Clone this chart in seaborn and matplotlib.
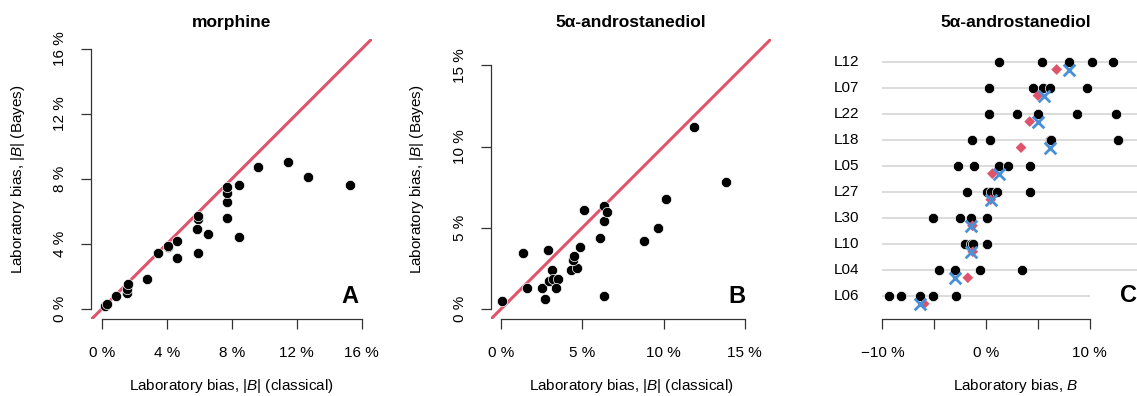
import pandas as pd
import seaborn as sns
import matplotlib.pyplot as plt

sns.set_theme(style="white")
plt.rcParams['font.family'] = ['Liberation Sans', 'DejaVu Sans']
plt.rcParams['mathtext.fontset'] = 'custom'
plt.rcParams['mathtext.it'] = 'Liberation Sans:italic'
plt.rcParams['mathtext.rm'] = 'Liberation Sans'
plt.rcParams['text.color'] = 'black'
plt.rcParams['axes.labelcolor'] = 'black'

RED = '#DF536B'
BLUE = '#4891D9'
AXC = '#333333'

# panel A: morphine, |B| classical vs Bayes (%)
morph_classical = [0.2, 0.3, 0.88, 1.54, 1.54, 1.6, 2.77, 3.45, 4.08, 4.08, 4.62, 4.62, 5.93, 5.86,
                   5.93, 5.93, 6.56, 7.73, 7.73, 7.73, 7.73, 8.45, 8.45, 9.62, 11.49, 12.72, 15.3]
morph_bayes = [0.2, 0.3, 0.82, 1.0, 1.25, 1.52, 1.83, 3.43, 3.82, 3.9, 4.21, 3.12, 3.43, 4.92,
               5.56, 5.74, 4.62, 5.62, 6.61, 7.12, 7.53, 7.61, 4.41, 8.74, 9.03, 8.12, 7.63]

# panel B: 5a-androstanediol
andro_classical = [0.08, 1.37, 1.62, 2.52, 2.72, 2.89, 3.11, 2.93, 3.21, 3.50, 3.36, 4.30, 4.67, 4.44,
                   4.50, 4.87, 5.12, 6.08, 6.31, 6.31, 6.51, 6.31, 8.82, 9.66, 10.18, 11.85, 13.82]
andro_bayes = [0.51, 3.42, 1.31, 1.31, 0.61, 3.62, 2.39, 1.74, 1.82, 1.82, 1.31, 2.39, 2.52, 3.01,
               3.29, 3.80, 6.09, 4.40, 5.40, 6.32, 5.99, 0.82, 4.21, 4.99, 6.79, 11.19, 7.79]

# panel C: per-laboratory bias (%)
labs = ["L12", "L07", "L22", "L18", "L05", "L27", "L30", "L10", "L04", "L06"]
lab_results = [
    [1.28, 5.38, 7.95, 10.19, 12.24],
    [0.32, 4.55, 5.51, 6.15, 9.68],
    [0.26, 2.95, 5.03, 8.81, 12.57],
    [-1.35, 0.38, 6.2, 6.3, 12.69],
    [-2.72, -1.12, 1.28, 2.08, 4.2],
    [-1.86, 0.06, 0.48, 1.09, 4.2],
    [-5.07, -2.5, -1.44, 0.06],
    [-2.02, -1.44, -1.28, 0.06],
    [-4.58, -2.98, -0.55, 3.46],
    [-9.39, -8.17, -6.41, -5.07, -2.86],
]
lab_classical = [6.8, 5.0, 4.2, 3.37, 0.61, 0.45, -1.31, -1.28, -1.76, -5.96]
lab_bayes = [8.01, 5.58, 5.0, 6.15, 1.28, 0.45, -1.47, -1.47, -2.98, -6.41]

W, H = 1137, 396
fig = plt.figure(figsize=(W / 100, H / 100), dpi=100)


def px_axes(x0, x1, y0, y1):
    return fig.add_axes([x0 / W, 1 - y1 / H, (x1 - x0) / W, (y1 - y0) / H])


def style_axes(ax):
    for s in ['top', 'right']:
        ax.spines[s].set_visible(False)
    for s in ['left', 'bottom']:
        ax.spines[s].set_color(AXC)
        ax.spines[s].set_linewidth(0.9)
    ax.tick_params(direction='out', length=7.2, width=0.9, color=AXC, labelsize=11,
                   left=True, bottom=True, labelcolor='black')
    ax.tick_params(axis='x', pad=12)
    ax.tick_params(axis='y', pad=10, labelrotation=90)
    for lab in ax.get_yticklabels():
        lab.set_va('center')


def scatter_panel(ax, xs, ys, ticks, title, letter, lx):
    df = pd.DataFrame({'classical': xs, 'bayes': ys})
    ax.axline((0, 0), slope=1, color=RED, lw=2.2, zorder=1)
    sns.scatterplot(data=df, x='classical', y='bayes', ax=ax, color='black', s=55,
                    edgecolor='white', linewidth=0.5, zorder=3)
    ax.set_xlim(-0.64, 16.64)
    ax.set_ylim(-0.64, 16.64)
    ax.set_xticks(ticks)
    ax.set_yticks(ticks)
    ax.set_xticklabels([f'{t} %' for t in ticks])
    ax.set_yticklabels([f'{t} %' for t in ticks])
    ax.spines['bottom'].set_bounds(ticks[0], ticks[-1])
    ax.spines['left'].set_bounds(ticks[0], ticks[-1])
    style_axes(ax)
    ax.set_xlabel(r'Laboratory bias, |$\it{B}$| (classical)', fontsize=11, labelpad=12)
    ax.set_ylabel(r'Laboratory bias, |$\it{B}$| (Bayes)', fontsize=11, labelpad=19)
    ax.set_title(title, fontsize=12.5, fontweight='bold', pad=8)
    ax.text(lx, 0.081, letter, transform=ax.transAxes, fontsize=17, fontweight='bold',
            ha='center', va='center')


axA = px_axes(91.3, 372.1, 38.6, 319.4)
scatter_panel(axA, morph_classical, morph_bayes, [0, 4, 8, 12, 16], 'morphine', 'A', 0.921)

axB = px_axes(490.6, 771.4, 38.6, 319.4)
scatter_panel(axB, andro_classical, andro_bayes, [0, 5, 10, 15], '5α-androstanediol', 'B', 0.877)

# panel C
axC = px_axes(881.7, 1150, 38.3, 319.4)
n = len(labs)
pos = [n - i for i in range(n)]
long = pd.DataFrame({
    'lab': [lab for lab, vals in zip(labs, lab_results) for _ in vals],
    'bias': [v for vals in lab_results for v in vals],
})
long['pos'] = long['lab'].map(dict(zip(labs, pos)))
est = pd.DataFrame({'lab': labs, 'pos': pos, 'classical': lab_classical, 'bayes': lab_bayes})
est['pos_off'] = est['pos'] - 0.3

xmax = 15.8
axC.hlines(pos, -10.06, [xmax] * (n - 1) + [10], color='#dcdcdc', lw=1.4, zorder=0)
sns.scatterplot(data=long, x='bias', y='pos', ax=axC, color='black', s=55,
                edgecolor='white', linewidth=0.5, zorder=3)
sns.scatterplot(data=est, x='classical', y='pos_off', ax=axC, color=RED, marker='D', s=30,
                edgecolor='none', zorder=4)
sns.scatterplot(data=est, x='bayes', y='pos_off', ax=axC, color=BLUE, marker='x', s=70,
                linewidth=2, zorder=5)
axC.set_xlim(-10.06, xmax)
axC.set_ylim(0.1, 10.9)
xt = [-10, -5, 0, 5, 10]
axC.set_xticks(xt)
axC.set_xticklabels(['−10 %', '', '0 %', '', '10 %'])
axC.set_yticks(pos)
axC.set_yticklabels(labs)
axC.spines['bottom'].set_bounds(-10, 10)
style_axes(axC)
axC.spines['left'].set_visible(False)
axC.tick_params(axis='y', length=0, pad=16, labelrotation=0)
for lab in axC.get_yticklabels():
    lab.set_va('center')
axC.set_xlabel(r'Laboratory bias, $\it{B}$', fontsize=11, labelpad=12)
axC.set_ylabel('')
axC.set_title('5α-androstanediol', fontsize=12.5, fontweight='bold', pad=8)
axC.text(0.92, 0.086, 'C', transform=axC.transAxes, fontsize=17, fontweight='bold',
         ha='center', va='center')

fig.savefig('out.png', dpi=100)
